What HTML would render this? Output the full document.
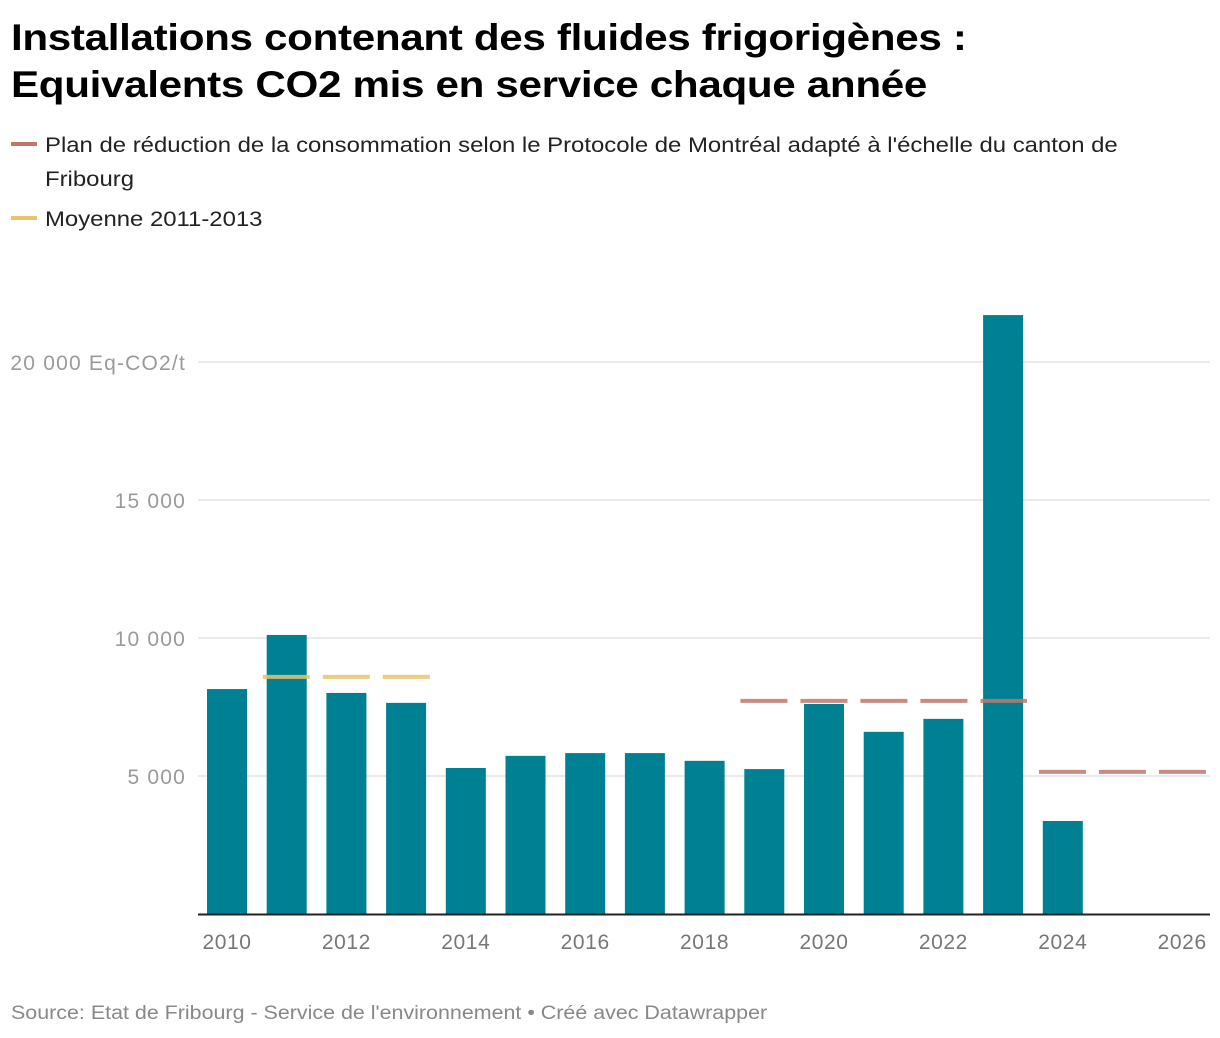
<!DOCTYPE html>
<html><head><meta charset="utf-8"><style>
body{margin:0;background:#fff;font-family:"Liberation Sans",sans-serif;}
#wrap{position:relative;width:1220px;height:1038px;overflow:hidden}
h1{position:absolute;left:11px;top:14px;margin:0;font-size:37px;line-height:47px;font-weight:bold;color:#000;letter-spacing:-0.3px;transform:scaleX(1.14);transform-origin:0 0;white-space:nowrap}
.leg{position:absolute;left:11px;font-size:21px;line-height:34px;color:#222;white-space:nowrap}
.lt{display:inline-block;transform:scaleX(1.138);transform-origin:0 0}
.sw{display:inline-block;width:26px;height:4px;vertical-align:middle;margin-right:8px;position:relative;top:-2px}
.src{position:absolute;left:11px;top:1003px;font-size:19px;color:#888;transform:scaleX(1.128);transform-origin:0 0;white-space:nowrap}
</style></head><body>
<div id="wrap">
<h1>Installations contenant des fluides frigorigènes :<br>Equivalents CO2 mis en service chaque année</h1>
<div class="leg" style="top:129px"><span class="sw" style="background:#c0776a"></span><span class="lt">Plan de réduction de la consommation selon le Protocole de Montréal adapté à l'échelle du canton de</span><br><span style="display:inline-block;width:34px"></span><span class="lt">Fribourg</span></div>
<div class="leg" style="top:203px"><span class="sw" style="background:#e9c46a"></span><span class="lt">Moyenne 2011-2013</span></div>
<svg id="chart" width="1220" height="1038" style="position:absolute;left:0;top:0"></svg>
<div class="src">Source: Etat de Fribourg - Service de l'environnement • Créé avec Datawrapper</div>
</div>
<script>
const years=[2010,2011,2012,2013,2014,2015,2016,2017,2018,2019,2020,2021,2022,2023,2024];
const values=[8150,10110,8010,7650,5290,5730,5830,5830,5550,5250,7610,6600,7070,21700,3370];
const yTicks=[5000,10000,15000,20000];
const yTickLabels=["5 000","10 000","15 000","20 000 Eq-CO2/t"];
const xTicks=[2010,2012,2014,2016,2018,2020,2022,2024,2026];
const moyenne=[{from:2010.6,to:2013.4,v:8590}];
const plan=[{from:2018.6,to:2023.4,v:7720},{from:2023.6,to:2026.4,v:5150}];
const NS="http://www.w3.org/2000/svg";
const svg=document.getElementById('chart');
const X=yr=>227+(yr-2010)*59.7;
const Y=v=>914-v*0.0276;
function mk(t,a){const e=document.createElementNS(NS,t);for(const k in a)e.setAttribute(k,a[k]);svg.appendChild(e);return e;}
yTicks.forEach((t,i)=>{
  const g=mk('line',{x1:198,x2:1210,y1:Y(t),y2:Y(t),stroke:'#e3e3e3','stroke-width':1.5});
  
  
  const tx=mk('text',{x:186,y:Y(t)+8,'text-anchor':'end','font-size':21,fill:'#9a9a9a','letter-spacing':'1.2','font-family':'Liberation Sans, sans-serif'});
  tx.textContent=yTickLabels[i];
  
  
});
years.forEach((yr,i)=>{
  const r=mk('rect',{x:X(yr)-20,y:Y(values[i]),width:40,height:914-Y(values[i]),fill:'#008093'});
  
  
});
function dl(s,c,name){
  const l=mk('line',{x1:X(s.from),x2:X(s.to),y1:Y(s.v),y2:Y(s.v),stroke:c,'stroke-width':4,'stroke-dasharray':'47 13','stroke-opacity':0.85});
  
  
}
moyenne.forEach(s=>dl(s,'#e9c46a','moyenne-line'));
plan.forEach(s=>dl(s,'#c0776a','plan-line'));
const ax=mk('line',{x1:198,x2:1210,y1:914.5,y2:914.5,stroke:'#222','stroke-width':2});


xTicks.forEach(t=>{
  const tx=mk('text',{x:X(t),y:949,'text-anchor':'middle','font-size':21,fill:'#777','letter-spacing':'0.6','font-family':'Liberation Sans, sans-serif'});
  tx.textContent=t;
  
  
});
</script>
</body></html>
